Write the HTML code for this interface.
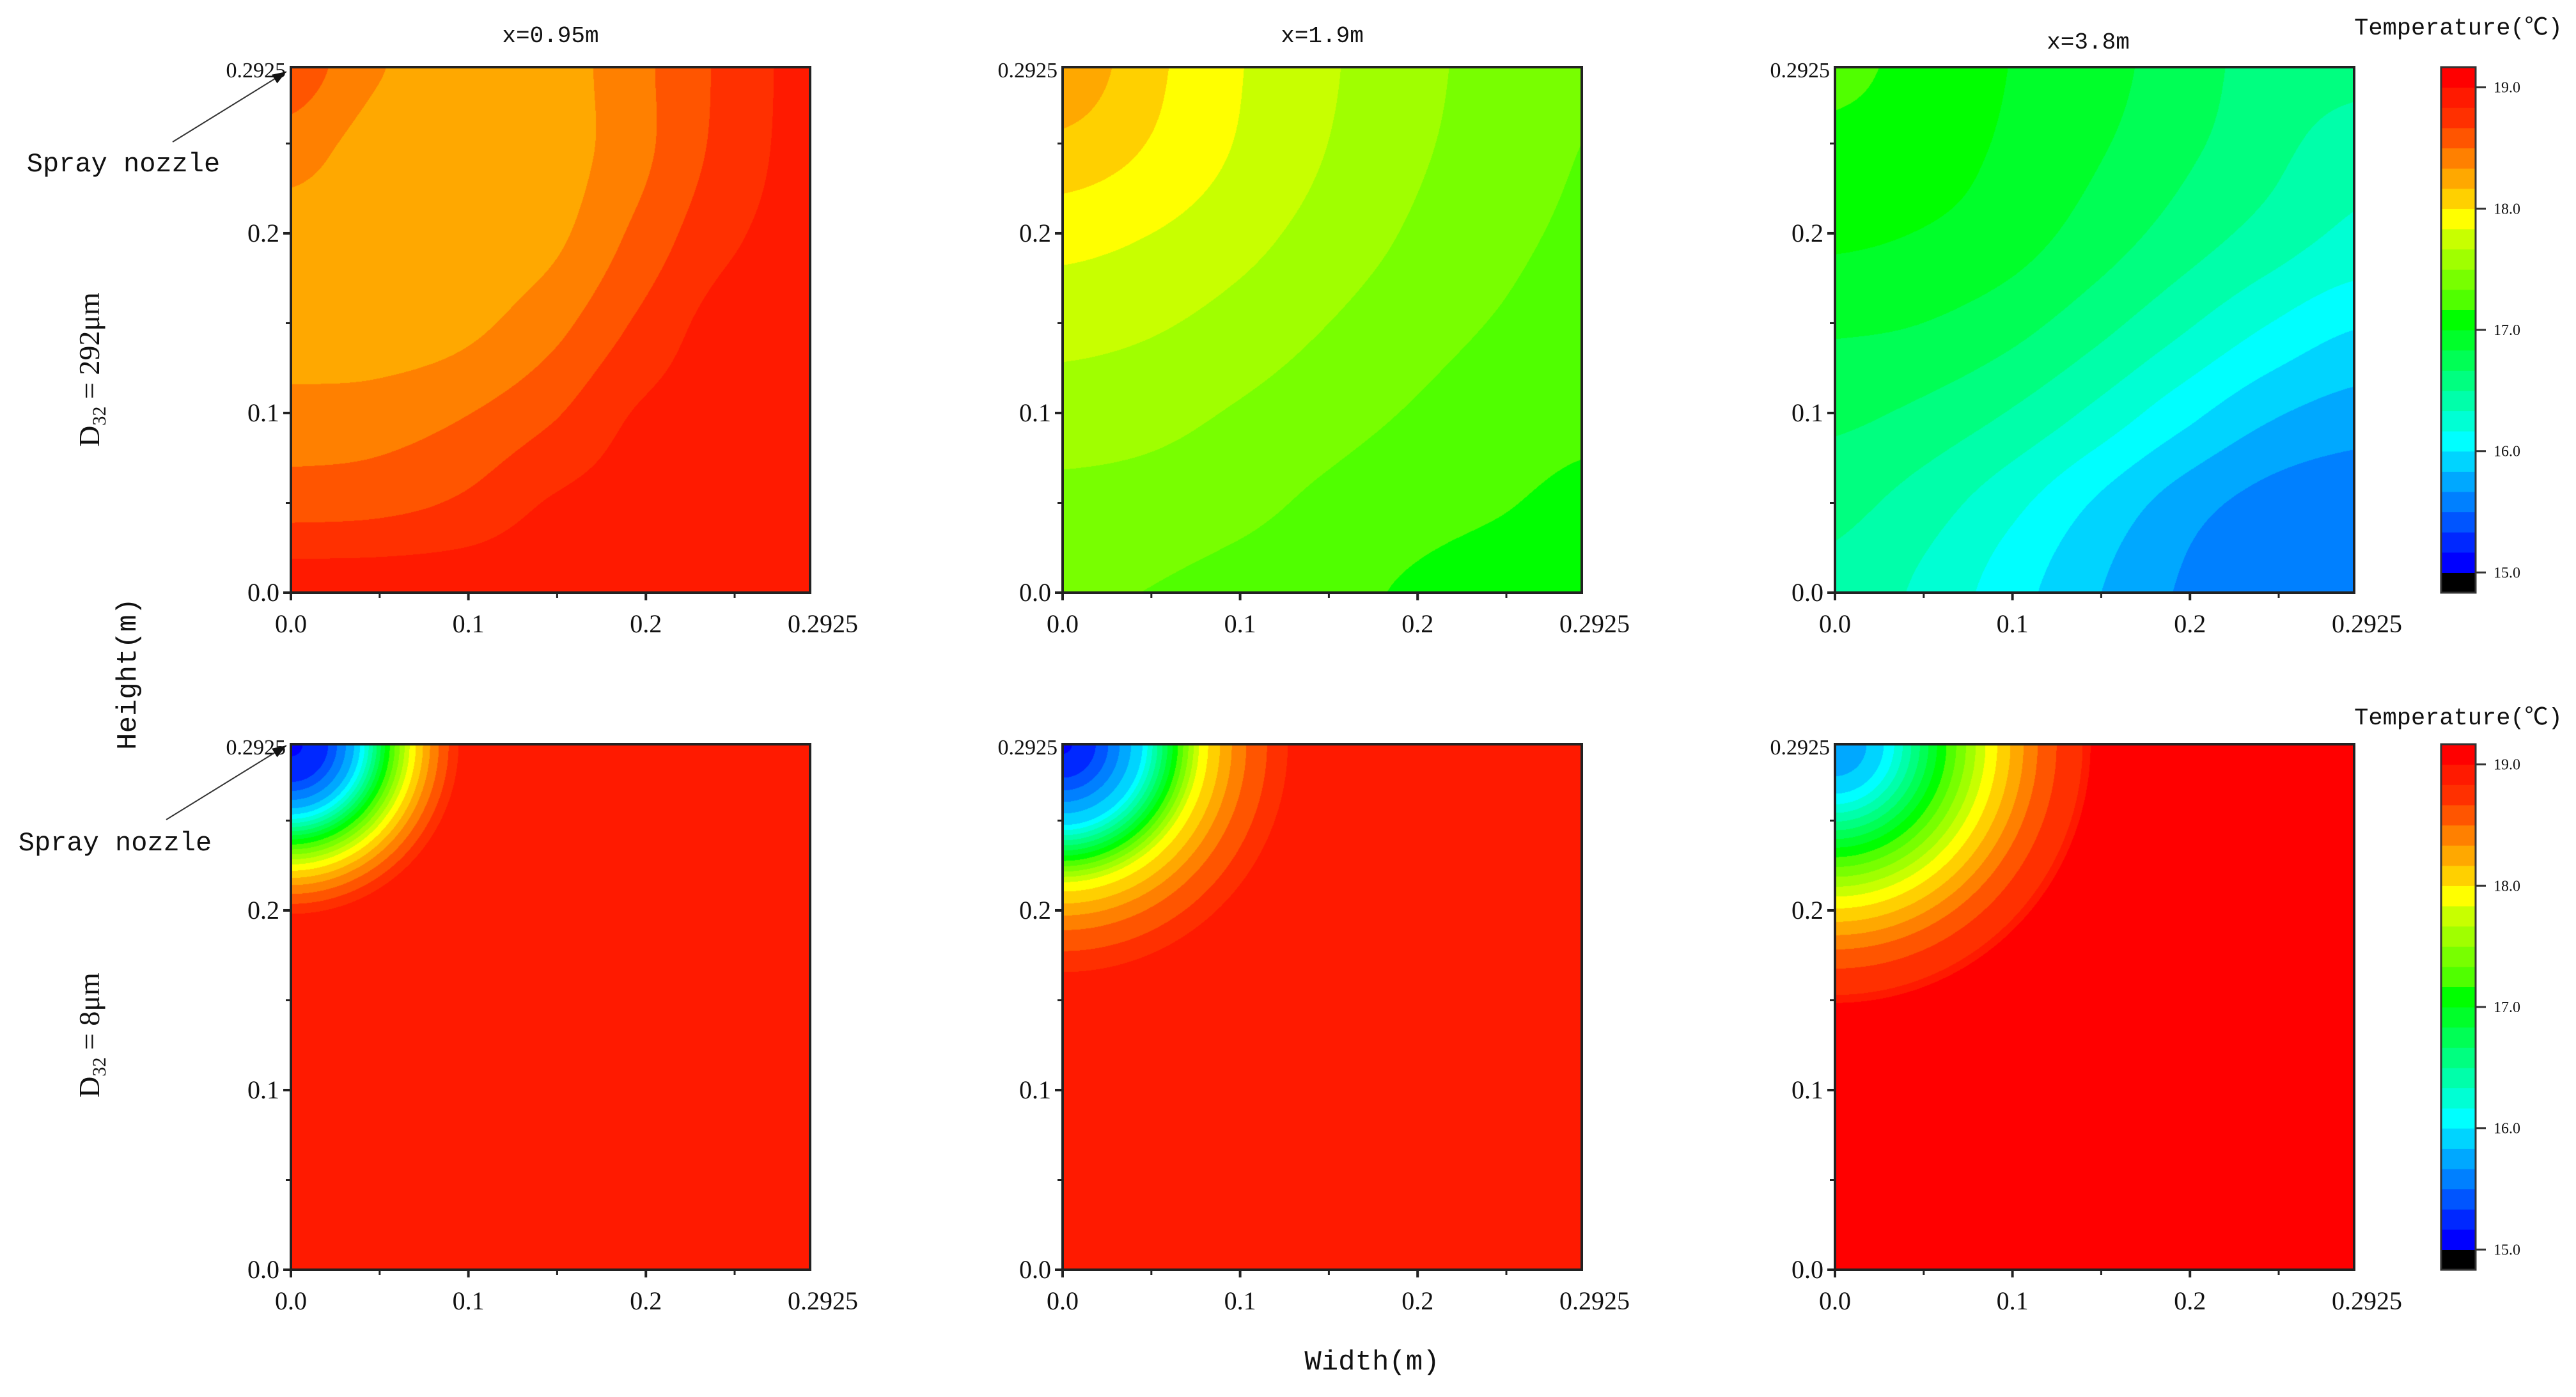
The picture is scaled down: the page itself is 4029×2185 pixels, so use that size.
<!DOCTYPE html>
<html><head><meta charset="utf-8">
<style>
html,body{margin:0;padding:0;background:#fff;}
#root{position:relative;width:4029px;height:2185px;overflow:hidden;background:#fff;}
canvas{position:absolute;}
svg{position:absolute;left:0;top:0;}
text{font-family:"Liberation Serif","Noto Serif CJK SC",serif;fill:#111;}
text.mono{font-family:"Liberation Mono","Noto Sans CJK SC",monospace;}
</style></head>
<body>
<div id="root">
<svg id="ov" width="4029" height="2185"></svg>
</div>
<script>
// ---- data ----
const bandColors = ["#000000","#0000ff","#0028ff","#0055ff","#0080ff","#00a8ff","#00d4ff","#00ffff","#00ffd4","#00ffaa","#00ff80","#00ff55","#00ff2a","#00ff00","#50ff00","#78ff00","#a0ff00","#c8ff00","#ffff00","#ffd000","#ffa800","#ff8000","#ff5500","#ff3000","#ff1a00","#ff0000"];
const bandMin = 14.8333, bandStep = 1/6;
const cbTicks = [15.0,16.0,17.0,18.0,19.0];
const cbTickLabels = ["15.0","16.0","17.0","18.0","19.0"];
const colTitles = ["x=0.95m","x=1.9m","x=3.8m"];
const rowLabels = ["292\u03bcm","8\u03bcm"];
const xTicks = [0,0.1,0.2], xTickLabels=["0.0","0.1","0.2"];
const minorTicks = [0.05,0.15,0.25];
const extent = 0.2925;
// top row: grid values, rows from y=0.2925 (top) down to y=0, cols x=0..0.2925
const grid095 = [
[18.6,18.35,18.25,18.25,18.45,18.7,18.9],
[18.4,18.25,18.25,18.25,18.45,18.72,18.9],
[18.25,18.25,18.25,18.3,18.55,18.8,18.9],
[18.25,18.25,18.3,18.45,18.7,18.9,18.9],
[18.4,18.42,18.5,18.65,18.85,18.9,18.9],
[18.6,18.62,18.7,18.85,18.9,18.9,18.9],
[18.95,18.95,18.95,18.95,18.95,18.95,18.95]];
const grid19 = [
[18.3,18.05,17.85,17.7,17.55,17.45,17.35],
[18.1,17.98,17.82,17.67,17.53,17.43,17.33],
[17.88,17.82,17.72,17.6,17.48,17.38,17.3],
[17.72,17.68,17.6,17.5,17.4,17.32,17.25],
[17.58,17.55,17.48,17.4,17.32,17.25,17.2],
[17.45,17.43,17.38,17.3,17.23,17.18,17.13],
[17.35,17.33,17.28,17.22,17.15,17.1,17.08]];
const grid38 = [
[17.2,17.12,17.0,16.9,16.75,16.6,16.55],
[17.12,17.08,16.97,16.85,16.7,16.55,16.4],
[17.02,16.98,16.9,16.75,16.58,16.42,16.28],
[16.85,16.82,16.72,16.55,16.35,16.15,16.0],
[16.7,16.62,16.48,16.28,16.05,15.85,15.75],
[16.55,16.42,16.22,15.98,15.75,15.6,15.55],
[16.45,16.3,16.08,15.85,15.65,15.52,15.5]];
// bottom row: radial profiles from nozzle (top-left corner)
const r095 = [0,0.02,0.035,0.04,0.053,0.068,0.08,0.095,0.12,0.5];
const t095 = [15.1,15.3,15.8,16.05,17.0,17.9,18.4,18.85,18.9,18.9];
const r19 = [0,0.02,0.045,0.062,0.078,0.1,0.128,0.2,0.5];
const t19 = [15.1,15.35,16.0,17.0,17.9,18.45,18.85,18.9,18.9];
const r38 = [0,0.02,0.03,0.059,0.087,0.107,0.119,0.141,0.145,0.5];
const t38 = [15.7,15.85,16.05,17.05,17.9,18.35,18.6,18.85,19.05,19.05];

// ---- layout ----
const colX=[455,1662,2870], rowY=[105,1164], PW=812, PH=822;
const cbX=3818, cbW=54;
const NS="http://www.w3.org/2000/svg";
const ov=document.getElementById('ov');
const root=document.getElementById('root');
function sx(v,c){return colX[c]+v/extent*PW;}
function sy(v,r){return rowY[r]+PH-v/extent*PH;}
function el(tag,attrs,parent){const e=document.createElementNS(NS,tag);for(const k in attrs)e.setAttribute(k,attrs[k]);(parent||ov).appendChild(e);return e;}
function txt(s,x,y,size,anchor,parent,cls){const t=el('text',{x:x,y:y,'font-size':size,'text-anchor':anchor||'middle'},parent);if(cls)t.setAttribute('class',cls);t.textContent=s;return t;}
function hex(c){return [parseInt(c.substr(1,2),16),parseInt(c.substr(3,2),16),parseInt(c.substr(5,2),16)];}
const rgb=bandColors.map(hex);
function band(T){let i=Math.floor((T-bandMin)/bandStep);return Math.max(0,Math.min(bandColors.length-1,i));}
function cr(p0,p1,p2,p3,t){return 0.5*((2*p1)+(-p0+p2)*t+(2*p0-5*p1+4*p2-p3)*t*t+(-p0+3*p1-3*p2+p3)*t*t*t);}
function gridVal(g,xm,ym){const n=g.length-1;const fx=xm/extent*n, fy=(extent-ym)/extent*n;
 const i=Math.min(n-1,Math.floor(fx)), j=Math.min(n-1,Math.floor(fy));const ax=fx-i, ay=fy-j;
 const cl=k=>Math.max(0,Math.min(n,k));
 const rows=[];
 for(let dj=-1;dj<=2;dj++){const row=g[cl(j+dj)];rows.push(cr(row[cl(i-1)],row[cl(i)],row[cl(i+1)],row[cl(i+2)],ax));}
 return cr(rows[0],rows[1],rows[2],rows[3],ay);}
function radVal(rs,ts,xm,ym){const r=Math.hypot(xm,extent-ym);
 for(let k=0;k<rs.length-1;k++){if(r<=rs[k+1]){const a=(r-rs[k])/(rs[k+1]-rs[k]);return ts[k]+a*(ts[k+1]-ts[k]);}}
 return ts[ts.length-1];}

const fields=[[(x,y)=>gridVal(grid095,x,y),(x,y)=>gridVal(grid19,x,y),(x,y)=>gridVal(grid38,x,y)],
[(x,y)=>radVal(r095,t095,x,y),(x,y)=>radVal(r19,t19,x,y),(x,y)=>radVal(r38,t38,x,y)]];
const panelNames=[["contour-d292-x095","contour-d292-x19","contour-d292-x38"],["contour-d8-x095","contour-d8-x19","contour-d8-x38"]];

for(let r=0;r<2;r++)for(let c=0;c<3;c++){
 const cv=document.createElement('canvas');cv.width=PW;cv.height=PH;
 cv.style.left=colX[c]+'px';cv.style.top=rowY[r]+'px';
 
 
 root.insertBefore(cv,ov);
 const ctx=cv.getContext('2d');const img=ctx.createImageData(PW,PH);const f=fields[r][c];
 for(let py=0;py<PH;py++){const ym=extent-(py+0.5)/PH*extent;
  for(let px=0;px<PW;px++){const xm=(px+0.5)/PW*extent;const col=rgb[band(f(xm,ym))];const o=(py*PW+px)*4;
   img.data[o]=col[0];img.data[o+1]=col[1];img.data[o+2]=col[2];img.data[o+3]=255;}}
 ctx.putImageData(img,0,0);
 const g=el('g',{});
 
 
 el('rect',{x:colX[c],y:rowY[r],width:PW,height:PH,fill:'none',stroke:'#222','stroke-width':4},g);
 const bx=rowY[r]+PH, lx=colX[c];
 xTicks.forEach((v,i)=>{el('line',{x1:sx(v,c),x2:sx(v,c),y1:bx,y2:bx+12,stroke:'#222','stroke-width':4},g);
  const t=txt(xTickLabels[i],sx(v,c),bx+62,40,'middle',g);
  el('line',{x1:lx,x2:lx-12,y1:sy(v,r),y2:sy(v,r),stroke:'#222','stroke-width':4},g);
  const t2=txt(xTickLabels[i],lx-18,sy(v,r)+13,40,'end',g);});
 minorTicks.forEach(v=>{el('line',{x1:sx(v,c),x2:sx(v,c),y1:bx,y2:bx+8,stroke:'#222','stroke-width':3},g);
  el('line',{x1:lx,x2:lx-8,y1:sy(v,r),y2:sy(v,r),stroke:'#222','stroke-width':3},g);});
 const te=txt('0.2925',sx(extent,c)+20,bx+62,40,'middle',g);
 const ty=txt('0.2925',lx-8,rowY[r]+16,34,'end',g);
}
// column titles
colTitles.forEach((s,c)=>{const t=txt(s,colX[c]+PW/2+(c===2?-10:0),c===2?76:66,36,'middle',null,'mono');});
// colorbars
const cbNames=['colorbar-top','colorbar-bottom'];
for(let r=0;r<2;r++){
 const g=el('g',{});
 
 
 const y0=rowY[r], H=PH, n=bandColors.length, vmax=bandMin+n*bandStep;
 const cy=v=>y0+H-(v-bandMin)/(vmax-bandMin)*H;
 bandColors.forEach((col,i)=>{el('rect',{x:cbX,y:cy(bandMin+(i+1)*bandStep),width:cbW,height:H/n+0.6,fill:col},g);});
 el('rect',{x:cbX,y:y0,width:cbW,height:H,fill:'none',stroke:'#333','stroke-width':3},g);
 cbTicks.forEach((v,i)=>{el('line',{x1:cbX+cbW,x2:cbX+cbW+16,y1:cy(v),y2:cy(v),stroke:'#333','stroke-width':3},g);
  const t=txt(cbTickLabels[i],cbX+cbW+28,cy(v)+8,24,'start',g);});
 const tt=txt('Temperature(\u2103)',3845,r===0?54:1133,37,'middle',g,'mono');
}
// row labels (D32)
[[141,578],[141,1619]].forEach((p,i)=>{const t=el('text',{x:0,y:0,'font-size':46,'text-anchor':'middle',transform:`translate(${p[0]+14},${p[1]}) rotate(-90)`});
 
 t.innerHTML='D<tspan font-size="30" dy="10">32</tspan><tspan dy="-10"> = '+rowLabels[i]+'</tspan>';});
// axis titles
const wt=txt('Width(m)',2146,2142,44,'middle',null,'mono');
const ht=el('text',{x:0,y:0,'font-size':44,'text-anchor':'middle','class':'mono',transform:'translate(212,1054) rotate(-90)'});ht.textContent='Height(m)';

// spray nozzle annotations
[[193,268,270,222,448,112],[180,1330,260,1282,448,1166]].forEach(a=>{
 const t=txt('Spray nozzle',a[0],a[1],42,'middle',null,'mono');
 const l=el('line',{x1:a[2],y1:a[3],x2:a[4],y2:a[5],stroke:'#333','stroke-width':2});
 
 const ang=Math.atan2(a[5]-a[3],a[4]-a[2]);const L=22,W=8;
 const bxp=a[4]-L*Math.cos(ang), byp=a[5]-L*Math.sin(ang);
 const p=el('polygon',{points:`${a[4]},${a[5]} ${bxp+W*Math.sin(ang)},${byp-W*Math.cos(ang)} ${bxp-W*Math.sin(ang)},${byp+W*Math.cos(ang)}`,fill:'#111'});
 
});
</script>
</body></html>
